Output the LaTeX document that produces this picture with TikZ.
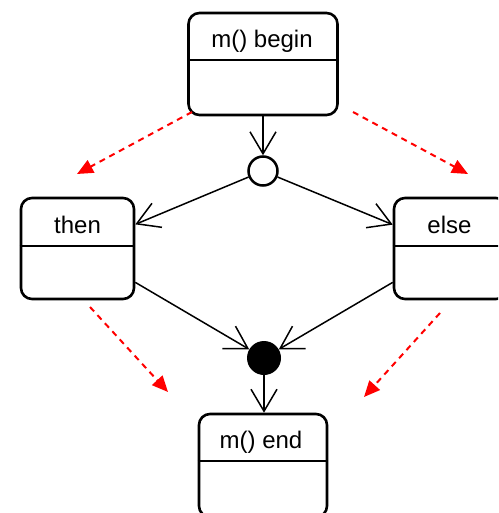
\documentclass[tikz,border=0pt]{standalone}
\usepackage{fontspec}
\setmainfont{Liberation Sans}
\usetikzlibrary{arrows.meta,calc}
\begin{document}
\begin{tikzpicture}[x=1pt,y=-1pt,
  statebox/.style={draw, line width=2.6pt, rounded corners=11pt, inner sep=0pt, fill=white},
  divider/.style={line width=1.6pt},
  label/.style={anchor=base, inner sep=0pt, font=\fontsize{24}{28}\selectfont},
  flow/.style={line width=1.5pt, -{Straight Barb[length=22pt,width=26pt]}},
  hint/.style={red, line width=2pt, dash pattern=on 6pt off 5pt,
    -{Triangle[length=16pt,width=14pt]}},
  forknode/.style={circle, draw, line width=2.5pt, fill=white, minimum size=29pt, inner sep=0pt},
  joinnode/.style={circle, fill=black, minimum size=34pt, inner sep=0pt}
]
\useasboundingbox (0,0) rectangle (498,513);
\clip (0,0) rectangle (498,513);

% states
\node[statebox, minimum width=149pt, minimum height=102pt] (begin) at (263,64) {};
\node[statebox, minimum width=113pt, minimum height=101pt] (then)  at (77.5,248.5) {};
\node[statebox, minimum width=113pt, minimum height=101pt] (else)  at (450.5,248.5) {};
\node[statebox, minimum width=128pt, minimum height=103pt] (end)   at (263,465.5) {};

% compartment dividers
\draw[divider] (begin.west |- 0,60) -- (begin.east |- 0,60);
\draw[divider] (then.west |- 0,246) -- (then.east |- 0,246);
\draw[divider] (else.west |- 0,246) -- (else.east |- 0,246);
\draw[divider] (end.west |- 0,461) -- (end.east |- 0,461);

% state names
\node[label] (tbegin) at (262,48) {m() begin};
\node[label] (tthen)  at (77.5,233) {then};
\node[label] (telse)  at (449.5,233) {else};
\node[label] (tend)   at (261,448) {m() end};

% decision and merge
\node[forknode] (fork) at (263,171) {};
\node[joinnode] (join) at (264,358) {};

% control flow
\draw[flow] (begin) -- (fork);
\draw[flow] (fork) -- (then);
\draw[flow] (fork) -- (else);
\draw[flow] (then) -- (join);
\draw[flow] (else) -- (join);
\draw[flow] (join) -- (join |- end.north);

% dashed hints
\coordinate (h1s) at (192,112);  \coordinate (h1e) at (77,174);
\coordinate (h2s) at (353,112);  \coordinate (h2e) at (468,174);
\coordinate (h3s) at (90,307);   \coordinate (h3e) at (168,392);
\coordinate (h4s) at (440,313);  \coordinate (h4e) at (364,397);
\draw[hint] (h1s) -- (h1e);
\draw[hint] (h2s) -- (h2e);
\draw[hint] (h3s) -- (h3e);
\draw[hint] (h4s) -- (h4e);
\end{tikzpicture}
\end{document}
